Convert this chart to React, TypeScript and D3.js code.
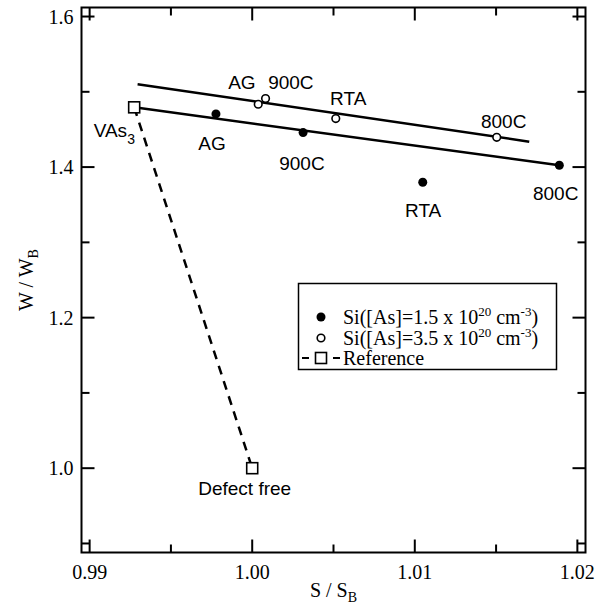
import React from 'react'
import * as d3 from 'd3'

// S/S_B and W/W_B
const filledS = [0.99777, 1.00313, 1.01049, 1.01889]
const filledW = [1.4706, 1.4458, 1.3798, 1.4024]
const openS = [1.00037, 1.00082, 1.00514, 1.01504]
const openW = [1.4835, 1.491, 1.4644, 1.4396]
const refS = [0.99274, 1.0]
const refW = [1.4794, 1.0]

// fitted lines (end points)
const fitFilledS = [0.99274, 1.01889]
const fitFilledW = [1.4794, 1.4024]
const fitOpenS = [0.99295, 1.01704]
const fitOpenW = [1.5101, 1.4338]

const xMajor = [0.99, 1.0, 1.01, 1.02]
const xMinor = [0.995, 1.005, 1.015]
const yMajor = [1.0, 1.2, 1.4, 1.6]
const yMinor = [0.9, 1.1, 1.3, 1.5]

// annotation labels: text, s, w (left / baseline)
const labelText = ['AG', '900C', 'RTA', '800C', 'AG', '900C', 'RTA', '800C', 'Defect free']
const labelS = [0.99852, 1.00098, 1.00479, 1.01407, 0.99668, 1.00166, 1.0094, 1.01727, 0.99668]
const labelW = [1.5039, 1.5039, 1.4826, 1.452, 1.4228, 1.3962, 1.3337, 1.3563, 0.9641]

const W = 602
const H = 607
const margin = { left: 81.5, right: 16.5, top: 7.5, bottom: 54.5 }

const serif = '"Liberation Serif", "Times New Roman", serif'
const sans = '"Liberation Sans", Arial, sans-serif'

export default function App() {
  const x = d3.scaleLinear().domain([0.9895, 1.0205]).range([margin.left, W - margin.right])
  const y = d3.scaleLinear().domain([0.888, 1.612]).range([H - margin.bottom, margin.top])
  const x0 = margin.left, x1 = W - margin.right
  const y0 = H - margin.bottom, y1 = margin.top
  const major = 13, minor = 8

  const path = (xs: number[], ys: number[]) =>
    d3.line<[number, number]>().x((d) => x(d[0])).y((d) => y(d[1]))(xs.map((v, i) => [v, ys[i]] as [number, number])) || ''

  const legendRow = (conc: string, yy: number) => (
    <text x={343} y={yy}>
      Si([As]={conc} x 10<tspan dy={-8} fontSize={13}>20</tspan>
      <tspan dy={8}> cm</tspan>
      <tspan dy={-8} fontSize={13}>-3</tspan>
      <tspan dy={8}>)</tspan>
    </text>
  )

  return (
    <svg width={W} height={H} style={{ position: 'absolute', left: 0, top: 0, background: '#fff' }}>
      {/* dashed reference line */}
      <path d={path(refS, refW)} fill="none" stroke="#000" strokeWidth={2.5} strokeDasharray="9,7" />
      <path d={path(fitFilledS, fitFilledW)} fill="none" stroke="#000" strokeWidth={2.5} />
      <path d={path(fitOpenS, fitOpenW)} fill="none" stroke="#000" strokeWidth={2.5} />

      {filledS.map((s, i) => (
        <circle key={'f' + i} cx={x(s)} cy={y(filledW[i])} r={4.5} fill="#000" />
      ))}
      {openS.map((s, i) => (
        <circle key={'o' + i} cx={x(s)} cy={y(openW[i])} r={3.8} fill="#fff" stroke="#000" strokeWidth={1.6} />
      ))}
      {refS.map((s, i) => (
        <rect key={'r' + i} x={x(s) - 5.5} y={y(refW[i]) - 5.5} width={11} height={11} fill="#fff" stroke="#000" strokeWidth={1.6} />
      ))}

      {/* frame */}
      <rect x={x0} y={y1} width={x1 - x0} height={y0 - y1} fill="none" stroke="#000" strokeWidth={2} />

      {/* ticks */}
      {xMajor.concat(xMinor).map((t, i) => {
        const len = i < xMajor.length ? major : minor
        return (
          <g key={'xt' + i} stroke="#000" strokeWidth={2}>
            <line x1={x(t)} x2={x(t)} y1={y0} y2={y0 - len} />
            <line x1={x(t)} x2={x(t)} y1={y1} y2={y1 + len} />
          </g>
        )
      })}
      {yMajor.concat(yMinor).map((t, i) => {
        const len = i < yMajor.length ? major : minor
        return (
          <g key={'yt' + i} stroke="#000" strokeWidth={2}>
            <line x1={x0} x2={x0 + len} y1={y(t)} y2={y(t)} />
            <line x1={x1} x2={x1 - len} y1={y(t)} y2={y(t)} />
          </g>
        )
      })}

      {/* tick labels */}
      {xMajor.map((t) => (
        <text key={'xl' + t} x={x(t)} y={y0 + 26} textAnchor="middle" fontFamily={serif} fontSize={20}>
          {d3.format('.2f')(t)}
        </text>
      ))}
      {yMajor.map((t) => (
        <text key={'yl' + t} x={x0 - 8} y={y(t) + 7} textAnchor="end" fontFamily={serif} fontSize={20}>
          {d3.format('.1f')(t)}
        </text>
      ))}

      {/* axis titles */}
      <text x={(x0 + x1) / 2} y={597} textAnchor="middle" fontFamily={serif} fontSize={20}>
        S / S<tspan dy={5} fontSize={14}>B</tspan>
      </text>
      <text transform={`translate(33,${(y0 + y1) / 2}) rotate(-90)`} textAnchor="middle" fontFamily={serif} fontSize={20}>
        W / W<tspan dy={5} fontSize={14}>B</tspan>
      </text>

      {/* annotations */}
      {labelText.map((t, i) => (
        <text key={'a' + i} x={x(labelS[i])} y={y(labelW[i])} fontFamily={sans} fontSize={19}>
          {t}
        </text>
      ))}
      <text x={x(0.99025)} y={y(1.44)} fontFamily={sans} fontSize={19}>
        VAs<tspan dy={7} fontSize={14}>3</tspan>
      </text>

      {/* legend */}
      <g>
        <rect x={298.5} y={283.5} width={258} height={86} fill="#fff" stroke="#000" strokeWidth={1.5} />
        <circle cx={321} cy={317} r={4.5} fill="#000" />
        <circle cx={321} cy={338} r={3.8} fill="#fff" stroke="#000" strokeWidth={1.6} />
        <line x1={302} x2={340} y1={358} y2={358} stroke="#000" strokeWidth={2} strokeDasharray="7,24" />
        <rect x={315.5} y={352.5} width={11} height={11} fill="#fff" stroke="#000" strokeWidth={1.6} />
        <g fontFamily={serif} fontSize={20}>
          {legendRow('1.5', 324)}
          {legendRow('3.5', 345)}
          <text x={343} y={365}>Reference</text>
        </g>
      </g>
    </svg>
  )
}
